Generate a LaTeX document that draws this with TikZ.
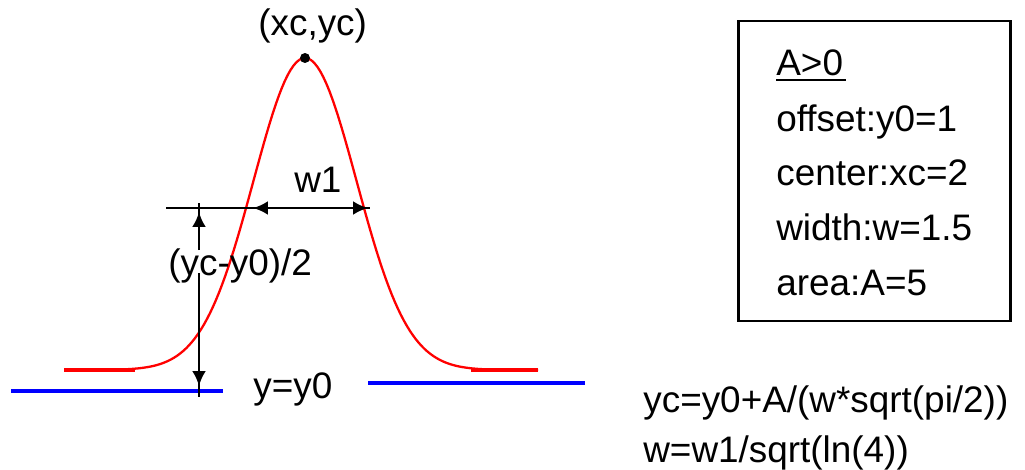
\documentclass[tikz,border=0pt]{standalone}
\usepackage{fontspec}
\setmainfont{Liberation Sans}
\usetikzlibrary{arrows.meta}

\begin{document}
\begin{tikzpicture}[x=0.02cm,y=-0.02cm,
  every node/.style={font=\fontsize{21}{25}\selectfont,inner sep=0pt},
  lbl/.style={anchor=base west},
  dim/.style={line width=1.6pt},
  tip/.style={-{Latex[length=0.3cm,width=0.28cm]},line width=1.6pt},
  base/.style={blue,line width=1.8pt},
  dot/.style={circle,fill,inner sep=0pt,minimum size=0.2cm}]
 \useasboundingbox (0,0) rectangle (1025,470);
 % peak curve
 \draw[red,line width=1.3pt] plot[domain=64:538,samples=160] (\x,{370-312*exp(-2*((\x-305)/103)^2)});
 \coordinate (rl1) at (64,370); \coordinate (rl2) at (135,370);
 \coordinate (rr1) at (471,370); \coordinate (rr2) at (538,370);
 \draw[red,line width=2pt] (rl1) -- (rl2) (rr1) -- (rr2);
 % baseline y=y0
 \coordinate (bl1) at (11,391); \coordinate (bl2) at (223,391);
 \coordinate (br1) at (368,383); \coordinate (br2) at (585,383);
 \draw[base] (bl1) -- (bl2);
 \draw[base] (br1) -- (br2);
 % half height and width
 \coordinate (h1) at (166,208); \coordinate (h2) at (370,208);
 \coordinate (wl) at (253,208); \coordinate (wr) at (368,208);
 \draw[dim] (h1) -- (h2);
 \draw[{Latex[length=0.3cm,width=0.28cm]}-{Latex[length=0.3cm,width=0.28cm]},line width=1.6pt] (wl) -- (wr);
 \coordinate (v1) at (199,203); \coordinate (v2) at (199,250);
 \coordinate (v3) at (199,273); \coordinate (v4) at (199,397);
 \coordinate (vt) at (199,212); \coordinate (vb) at (199,386);
 \draw[dim] (v1) -- (v2);
 \draw[dim] (v3) -- (v4);
 \draw[tip] (v2) -- (vt);
 \draw[tip] (v3) -- (vb);
 \node[dot] (pk) at (305,58) {};
 % labels
 \node[lbl] (pkl) at (258,35) {(xc,yc)};
 \node[lbl] (w1) at (294,192) {w1};
 \node[lbl] (hh) at (168,275) {(yc-y0)/2};
 \node[lbl] (y0) at (253,398) {y=y0};
 % parameter box
 \draw[line width=1.7pt] (738,21) rectangle (1010,321);
 \node[lbl] (ap) at (776,75) {A>0};
 \draw[line width=1pt] (ap.base west) ++(0,5) -- ++(70,0);
 \node[lbl] (p1) at (776,131) {offset:y0=1};
 \node[lbl] (p2) at (776,185) {center:xc=2};
 \node[lbl] (p3) at (776,240) {width:w=1.5};
 \node[lbl] (p4) at (776,295) {area:A=5};
 % formulas
 \node[lbl] (f1) at (643,412) {yc=y0+A/(w*sqrt(pi/2))};
 \node[lbl] (f2) at (643,462) {w=w1/sqrt(ln(4))};
\end{tikzpicture}
\end{document}
